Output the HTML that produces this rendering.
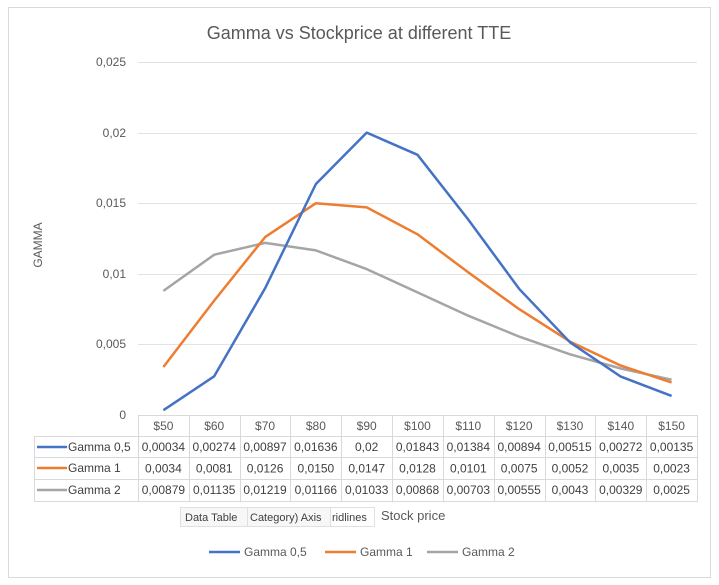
<!DOCTYPE html>
<html><head><meta charset="utf-8"><style>
body{margin:0;background:#fff;}
svg{display:block;font-family:"Liberation Sans",sans-serif;}
</style></head><body>
<svg width="719" height="585" viewBox="0 0 719 585">
<rect x="0" y="0" width="719" height="585" fill="#fff"/>
<rect x="8.5" y="7.5" width="702" height="570" fill="#fff" stroke="#d9d9d9"/>
<text x="359" y="39" font-size="18" fill="#595959" text-anchor="middle">Gamma vs Stockprice at different TTE</text>
<g stroke="#e3e3e3" stroke-width="1">
<line x1="138" x2="697" y1="62.5" y2="62.5"/>
<line x1="138" x2="697" y1="133.5" y2="133.5"/>
<line x1="138" x2="697" y1="203.5" y2="203.5"/>
<line x1="138" x2="697" y1="274.5" y2="274.5"/>
<line x1="138" x2="697" y1="344.5" y2="344.5"/>
</g>
<g font-size="12" fill="#595959" text-anchor="end">
<text x="126" y="66">0,025</text>
<text x="126" y="137">0,02</text>
<text x="126" y="207">0,015</text>
<text x="126" y="278">0,01</text>
<text x="126" y="348">0,005</text>
<text x="126" y="419">0</text>
</g>
<text transform="translate(42,245) rotate(-90)" font-size="12" fill="#595959" text-anchor="middle">GAMMA</text>
<!-- table -->
<g stroke="#d9d9d9" stroke-width="1" fill="none">
<line x1="138" x2="697" y1="415.5" y2="415.5"/>
<line x1="34" x2="697" y1="436.5" y2="436.5"/>
<line x1="34" x2="697" y1="457.5" y2="457.5"/>
<line x1="34" x2="697" y1="479.5" y2="479.5"/>
<line x1="34" x2="697" y1="501.5" y2="501.5"/>
<line x1="34.5" x2="34.5" y1="436" y2="502"/>
<g id="vl"></g>
</g>
<g id="tbl" font-size="12" fill="#404040" text-anchor="middle"></g>
<g font-size="12" fill="#404040">
<line x1="37" x2="67" y1="447" y2="447" stroke="#4472c4" stroke-width="2.5"/>
<text x="68" y="451">Gamma 0,5</text>
<line x1="37" x2="67" y1="468" y2="468" stroke="#ed7d31" stroke-width="2.5"/>
<text x="68" y="472">Gamma 1</text>
<line x1="37" x2="67" y1="490" y2="490" stroke="#a5a5a5" stroke-width="2.5"/>
<text x="68" y="494">Gamma 2</text>
</g>
<g id="lines" fill="none" stroke-width="2.5" stroke-linejoin="round"></g>
<!-- tooltips -->
<g font-size="11" fill="#404040">
<rect x="180.5" y="507.5" width="67" height="19" fill="#f7f7f7" stroke="#e0e0e0"/>
<text x="185" y="521">Data Table</text>
<rect x="247.5" y="507.5" width="83" height="19" fill="#f7f7f7" stroke="#e0e0e0"/>
<text x="250" y="521">Category) Axis</text>
<rect x="330.5" y="507.5" width="44" height="19" fill="#fff" stroke="#e0e0e0"/>
<text x="332" y="521">ridlines</text>
</g>
<text x="381" y="520" font-size="13" fill="#595959">Stock price</text>
<g font-size="12" fill="#595959">
<line x1="209" x2="240" y1="552" y2="552" stroke="#4472c4" stroke-width="2.5"/>
<text x="244" y="556">Gamma 0,5</text>
<line x1="325" x2="356" y1="552" y2="552" stroke="#ed7d31" stroke-width="2.5"/>
<text x="360" y="556">Gamma 1</text>
<line x1="427" x2="458" y1="552" y2="552" stroke="#a5a5a5" stroke-width="2.5"/>
<text x="462" y="556">Gamma 2</text>
</g>
<script>
var ns="http://www.w3.org/2000/svg";
function el(t,a,p,txt){var e=document.createElementNS(ns,t);for(var k in a)e.setAttribute(k,a[k]);if(txt)e.textContent=txt;p.appendChild(e);return e;}
var x0=138,w=50.82,yb=415,sc=353/0.025;
var hdr=["$50","$60","$70","$80","$90","$100","$110","$120","$130","$140","$150"];
var d=[["0,00034","0,00274","0,00897","0,01636","0,02","0,01843","0,01384","0,00894","0,00515","0,00272","0,00135"],
["0,0034","0,0081","0,0126","0,0150","0,0147","0,0128","0,0101","0,0075","0,0052","0,0035","0,0023"],
["0,00879","0,01135","0,01219","0,01166","0,01033","0,00868","0,00703","0,00555","0,0043","0,00329","0,0025"]];
var vl=document.getElementById("vl"),tb=document.getElementById("tbl");
for(var i=0;i<=11;i++){var x=Math.round(x0+i*w)+0.5;el("line",{x1:x,x2:x,y1:415,y2:502},vl);}
var cols=["#4472c4","#ed7d31","#a5a5a5"],ln=document.getElementById("lines");
for(var i=0;i<11;i++){var cx=x0+w*(i+0.5);el("text",{x:cx,y:430,fill:"#595959"},tb,hdr[i]);
for(var r=0;r<3;r++)el("text",{x:cx,y:451+r*21.5},tb,d[r][i]);}
for(var r=2;r>=0;r--){var p=[];for(var i=0;i<11;i++){p.push((x0+w*(i+0.5)).toFixed(1)+","+(yb-parseFloat(d[r][i].replace(",","."))*sc).toFixed(1));}
el("polyline",{points:p.join(" "),stroke:cols[r]},ln);}
</script>
</svg>
</body></html>
